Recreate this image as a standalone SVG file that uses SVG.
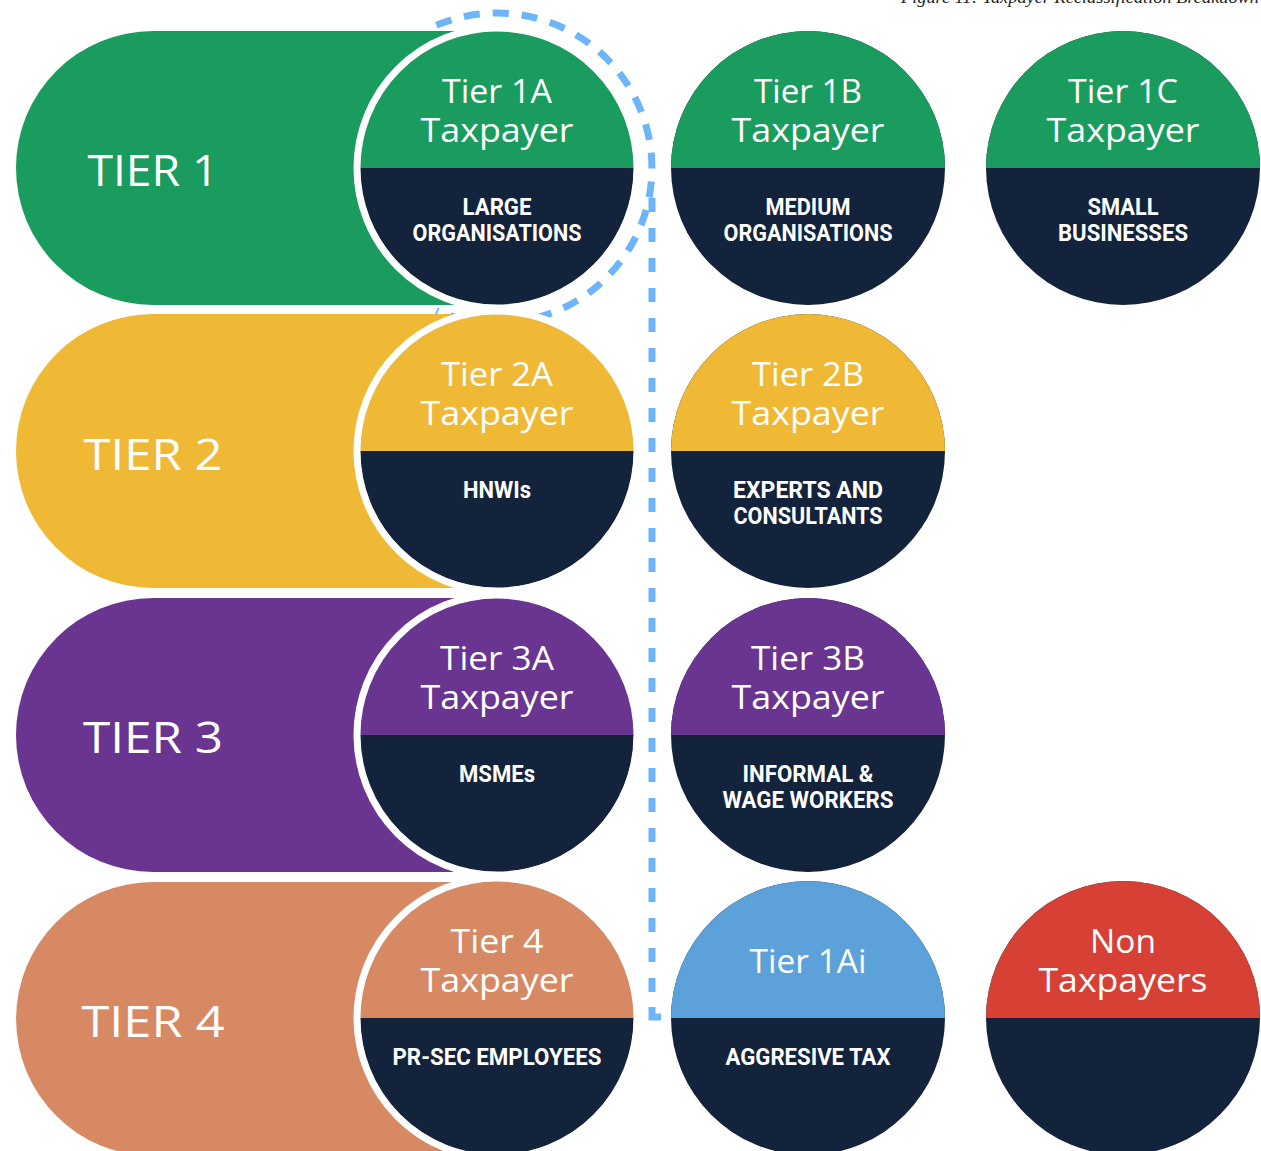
<svg xmlns="http://www.w3.org/2000/svg" width="1261" height="1151" viewBox="0 0 1261 1151">
<style>
.pill-t{font-family:"Open Sans","Liberation Sans",sans-serif;font-size:43px;fill:#fff;text-anchor:middle}
.hd{font-family:"Open Sans","Liberation Sans",sans-serif;font-size:32px;fill:#fff;text-anchor:middle}
.lb{font-family:Roboto,"Liberation Sans",sans-serif;font-weight:700;font-size:24px;fill:#fff;text-anchor:middle}
.navy{fill:#13233b}
.ring{fill:none;stroke:#fff;stroke-width:7}
.dash{fill:none;stroke:#6db5f8;stroke-width:7}
.cap{font-family:"Liberation Serif",serif;font-style:italic;font-size:17px;fill:#222;text-anchor:end}
</style>
<rect width="1261" height="1151" fill="#fff"/>
<text class="cap" x="1259" y="3" textLength="358" lengthAdjust="spacingAndGlyphs">Figure 11: Taxpayer Reclassification Breakdown</text>

<!-- Pills -->
<g id="tier1">
<path d="M153,31 H500 V305 H153 A137,137 0 0 1 153,31 Z" fill="#199c5d"/>
<text class="pill-t" x="153" y="186" textLength="131" lengthAdjust="spacingAndGlyphs">TIER 1</text>
</g>
<g id="tier2">
<path d="M153,314 H500 V588 H153 A137,137 0 0 1 153,314 Z" fill="#f0b935"/>
<text class="pill-t" x="153" y="470" textLength="139" lengthAdjust="spacingAndGlyphs">TIER 2</text>
</g>
<g id="tier3">
<path d="M153,598 H500 V872 H153 A137,137 0 0 1 153,598 Z" fill="#693591"/>
<text class="pill-t" x="153" y="753" textLength="140" lengthAdjust="spacingAndGlyphs">TIER 3</text>
</g>
<g id="tier4">
<path d="M153,882 H500 V1156 H153 A137,137 0 0 1 153,882 Z" fill="#d78964"/>
<text class="pill-t" x="153" y="1037" textLength="143" lengthAdjust="spacingAndGlyphs">TIER 4</text>
</g>

<!-- Connectors -->
<g id="connectors">
<path class="dash" d="M436.4,25.3 A155,155 0 1 1 436.4,310.7" stroke-dasharray="16 13"/>
<path class="dash" d="M652,198 V992" stroke-dasharray="14 16"/>
<path class="dash" d="M652,1007 V1017 H661"/>
</g>

<!-- Circles -->
<g id="tier-1a">
<circle cx="497" cy="168" r="137" class="navy"/>
<path d="M360,168 A137,137 0 0 1 634,168 Z" fill="#199c5d"/>
<circle cx="497" cy="168" r="140" class="ring"/>
<text class="hd" x="497" y="103" textLength="110" lengthAdjust="spacingAndGlyphs">Tier 1A</text>
<text class="hd" x="497" y="142" textLength="153" lengthAdjust="spacingAndGlyphs">Taxpayer</text>
<text class="lb" x="497" y="215" textLength="69" lengthAdjust="spacingAndGlyphs">LARGE</text>
<text class="lb" x="497" y="241" textLength="169" lengthAdjust="spacingAndGlyphs">ORGANISATIONS</text>
</g>
<g id="tier-1b">
<circle cx="808" cy="168" r="137" class="navy"/>
<path d="M671,168 A137,137 0 0 1 945,168 Z" fill="#199c5d"/>
<text class="hd" x="808" y="103" textLength="108" lengthAdjust="spacingAndGlyphs">Tier 1B</text>
<text class="hd" x="808" y="142" textLength="153" lengthAdjust="spacingAndGlyphs">Taxpayer</text>
<text class="lb" x="808" y="215" textLength="85" lengthAdjust="spacingAndGlyphs">MEDIUM</text>
<text class="lb" x="808" y="241" textLength="169" lengthAdjust="spacingAndGlyphs">ORGANISATIONS</text>
</g>
<g id="tier-1c">
<circle cx="1123" cy="168" r="137" class="navy"/>
<path d="M986,168 A137,137 0 0 1 1260,168 Z" fill="#199c5d"/>
<text class="hd" x="1123" y="103" textLength="110" lengthAdjust="spacingAndGlyphs">Tier 1C</text>
<text class="hd" x="1123" y="142" textLength="153" lengthAdjust="spacingAndGlyphs">Taxpayer</text>
<text class="lb" x="1123" y="215" textLength="71" lengthAdjust="spacingAndGlyphs">SMALL</text>
<text class="lb" x="1123" y="241" textLength="130" lengthAdjust="spacingAndGlyphs">BUSINESSES</text>
</g>

<g id="tier-2a">
<circle cx="497" cy="451" r="137" class="navy"/>
<path d="M360,451 A137,137 0 0 1 634,451 Z" fill="#f0b935"/>
<circle cx="497" cy="451" r="140" class="ring"/>
<text class="hd" x="497" y="386" textLength="112" lengthAdjust="spacingAndGlyphs">Tier 2A</text>
<text class="hd" x="497" y="425" textLength="153" lengthAdjust="spacingAndGlyphs">Taxpayer</text>
<text class="lb" x="497" y="498" textLength="68" lengthAdjust="spacingAndGlyphs">HNWIs</text>
</g>
<g id="tier-2b">
<circle cx="808" cy="451" r="137" class="navy"/>
<path d="M671,451 A137,137 0 0 1 945,451 Z" fill="#f0b935"/>
<text class="hd" x="808" y="386" textLength="112" lengthAdjust="spacingAndGlyphs">Tier 2B</text>
<text class="hd" x="808" y="425" textLength="153" lengthAdjust="spacingAndGlyphs">Taxpayer</text>
<text class="lb" x="808" y="498" textLength="150" lengthAdjust="spacingAndGlyphs">EXPERTS AND</text>
<text class="lb" x="808" y="524" textLength="149" lengthAdjust="spacingAndGlyphs">CONSULTANTS</text>
</g>

<g id="tier-3a">
<circle cx="497" cy="735" r="137" class="navy"/>
<path d="M360,735 A137,137 0 0 1 634,735 Z" fill="#693591"/>
<circle cx="497" cy="735" r="140" class="ring"/>
<text class="hd" x="497" y="670" textLength="114" lengthAdjust="spacingAndGlyphs">Tier 3A</text>
<text class="hd" x="497" y="709" textLength="153" lengthAdjust="spacingAndGlyphs">Taxpayer</text>
<text class="lb" x="497" y="782" textLength="76" lengthAdjust="spacingAndGlyphs">MSMEs</text>
</g>
<g id="tier-3b">
<circle cx="808" cy="735" r="137" class="navy"/>
<path d="M671,735 A137,137 0 0 1 945,735 Z" fill="#693591"/>
<text class="hd" x="808" y="670" textLength="114" lengthAdjust="spacingAndGlyphs">Tier 3B</text>
<text class="hd" x="808" y="709" textLength="153" lengthAdjust="spacingAndGlyphs">Taxpayer</text>
<text class="lb" x="808" y="782" textLength="131" lengthAdjust="spacingAndGlyphs">INFORMAL &amp;</text>
<text class="lb" x="808" y="808" textLength="171" lengthAdjust="spacingAndGlyphs">WAGE WORKERS</text>
</g>

<g id="tier-4">
<circle cx="497" cy="1018" r="137" class="navy"/>
<path d="M360,1018 A137,137 0 0 1 634,1018 Z" fill="#d78964"/>
<circle cx="497" cy="1018" r="140" class="ring"/>
<text class="hd" x="497" y="953" textLength="93" lengthAdjust="spacingAndGlyphs">Tier 4</text>
<text class="hd" x="497" y="992" textLength="153" lengthAdjust="spacingAndGlyphs">Taxpayer</text>
<text class="lb" x="497" y="1065" textLength="209" lengthAdjust="spacingAndGlyphs">PR-SEC EMPLOYEES</text>
</g>
<g id="tier-1ai">
<circle cx="808" cy="1018" r="137" class="navy"/>
<path d="M671,1018 A137,137 0 0 1 945,1018 Z" fill="#5ca1da"/>
<text class="hd" x="808" y="973" textLength="117" lengthAdjust="spacingAndGlyphs">Tier 1Ai</text>
<text class="lb" x="808" y="1065" textLength="165" lengthAdjust="spacingAndGlyphs">AGGRESIVE TAX</text>
</g>
<g id="non-taxpayers">
<circle cx="1123" cy="1018" r="137" class="navy"/>
<path d="M986,1018 A137,137 0 0 1 1260,1018 Z" fill="#d64035"/>
<text class="hd" x="1123" y="953" textLength="66" lengthAdjust="spacingAndGlyphs">Non</text>
<text class="hd" x="1123" y="992" textLength="169" lengthAdjust="spacingAndGlyphs">Taxpayers</text>
</g>
</svg>
